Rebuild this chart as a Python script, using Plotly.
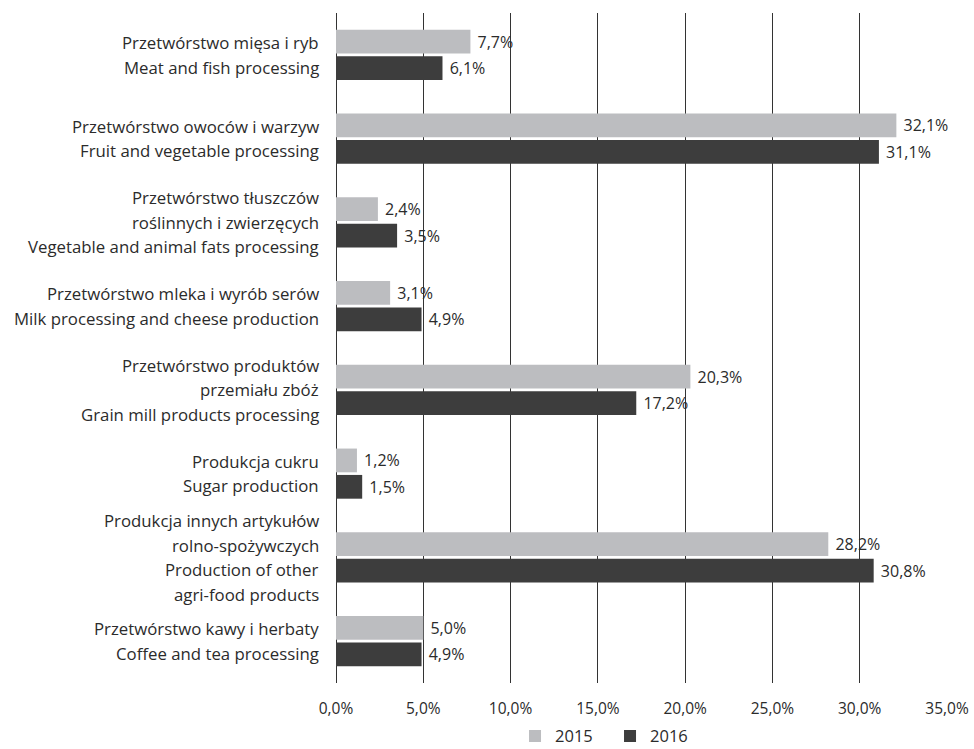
import plotly.graph_objects as go

categories = [
    ["Przetwórstwo mięsa i ryb", "Meat and fish processing"],
    ["Przetwórstwo owoców i warzyw", "Fruit and vegetable processing"],
    ["Przetwórstwo tłuszczów", "roślinnych i zwierzęcych", "Vegetable and animal fats processing"],
    ["Przetwórstwo mleka i wyrób serów", "Milk processing and cheese production"],
    ["Przetwórstwo produktów", "przemiału zbóż", "Grain mill products processing"],
    ["Produkcja cukru", "Sugar production"],
    ["Produkcja innych artykułów", "rolno-spożywczych", "Production of other", "agri-food products"],
    ["Przetwórstwo kawy i herbaty", "Coffee and tea processing"],
]
values_2015 = [7.7, 32.1, 2.4, 3.1, 20.3, 1.2, 28.2, 5.0]
values_2016 = [6.1, 31.1, 3.5, 4.9, 17.2, 1.5, 30.8, 4.9]
series_names = ["2015", "2016"]
x_ticks = [0, 5, 10, 15, 20, 25, 30, 35]
x_tick_labels = ["0,0%", "5,0%", "10,0%", "15,0%", "20,0%", "25,0%", "30,0%", "35,0%"]

FONT = "Open Sans"
TXT = "#2b2b2b"
keys = [" / ".join(c) for c in categories]

fig = go.Figure()
for name, vals, color in [(series_names[0], values_2015, "#bcbdc0"),
                          (series_names[1], values_2016, "#3d3d3d")]:
    fig.add_trace(go.Bar(
        y=keys, x=vals, orientation="h", name=name,
        marker=dict(color=color, line=dict(width=0)),
        texttemplate="\u00a0%{x:.1f}%", textposition="outside",
        textfont=dict(family=FONT, size=16, color=TXT),
        cliponaxis=False, hoverinfo="skip",
    ))

annotations = []
for key, lines in zip(keys, categories):
    n = len(lines)
    spacing = 24.5
    for i, line in enumerate(lines):
        annotations.append(dict(
            x=0, xref="paper", xanchor="right", xshift=-15,
            y=key, yref="y", yanchor="middle",
            yshift=-(i - (n - 1) / 2) * spacing,
            text=line, showarrow=False,
            font=dict(family=FONT, size=16.8, color=TXT),
        ))

fig.update_layout(
    width=974, height=749,
    margin=dict(l=336, r=27, t=13, b=66, autoexpand=False),
    paper_bgcolor="white", plot_bgcolor="white",
    barmode="group", bargap=0.37, bargroupgap=0.1,
    separators=", ",
    font=dict(family=FONT, size=16, color=TXT),
    annotations=annotations,
    legend=dict(orientation="h", x=0.293, xanchor="left",
                yref="container", y=0.017, yanchor="middle",
                font=dict(family=FONT, size=16.5, color=TXT),
                itemwidth=30, entrywidth=50, entrywidthmode="pixels",
                traceorder="normal"),
    xaxis=dict(range=[0, 35], tickvals=x_ticks, ticktext=x_tick_labels,
               showgrid=True, gridcolor="#333333", gridwidth=1,
               zeroline=True, zerolinecolor="#333333", zerolinewidth=1,
               showline=False, ticks="", ticklabelstandoff=14,
               tickfont=dict(family=FONT, size=15.5, color=TXT)),
    yaxis=dict(autorange="reversed", showticklabels=False, showgrid=False,
               zeroline=False, showline=False, ticks=""),
)

fig.write_html("out.html")
